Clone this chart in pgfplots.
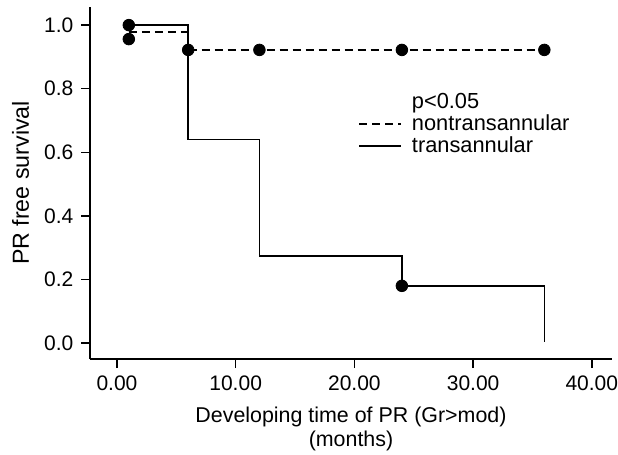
\documentclass[border=0pt]{standalone}
\usepackage{fontspec}
\setmainfont{Liberation Sans}
\usepackage{pgfplots}
\pgfplotsset{compat=1.18}
\begin{document}
\fontsize{10.9}{13}\selectfont
\begin{tikzpicture}
\begin{axis}[
  scale only axis,
  width=261pt, height=176pt,
  xmin=-2.27, xmax=41.7, ymin=-0.05, ymax=1.057,
  axis x line*=bottom, axis y line*=left,
  axis line style={line width=0.7pt},
  tick style={line width=0.7pt, black},
  tick align=outside, major tick length=4.5pt,
  tick label style={font=\fontsize{10.5}{12}\selectfont},
  xtick={0,10,20,30,40}, ytick={0,0.2,0.4,0.6,0.8,1.0},
  xticklabel style={/pgf/number format/.cd, fixed, fixed zerofill, precision=2, assume math mode=true},
  yticklabel style={/pgf/number format/.cd, fixed, fixed zerofill, precision=1, assume math mode=true},
  xlabel={Developing time of PR (Gr>mod)\\(months)},
  xlabel style={align=center, font=\fontsize{10.7}{12}\selectfont, yshift=-1pt},
  ylabel={PR free survival},
  ylabel style={font=\fontsize{11.6}{13}\selectfont},
  legend style={draw=none, fill=none, inner sep=0pt, row sep=-2.5pt, at={(axis cs:20.3,0.80)}, anchor=north west, cells={anchor=west}},
  legend image code/.code={\draw[#1] (0pt,0pt) -- (21pt,0pt); \path (24pt,0pt);},
]
\addlegendimage{empty legend}
\addlegendentry{p<0.05}
\addplot[const plot, black, line width=0.8pt, dash pattern=on 4pt off 2.5pt] coordinates {(1,0.979) (6,0.922) (36,0.922)};
\addlegendentry{nontransannular}
\addplot[const plot, black, line width=0.8pt] coordinates {(1,1.0) (6,0.64) (12,0.274) (24,0.18) (36,0.005)};
\addlegendentry{transannular}
\addplot[only marks, mark=*, mark size=2.9pt, black, forget plot] coordinates {(1,1.0) (24,0.18)};
\addplot[only marks, mark=*, mark size=2.9pt, black, forget plot] coordinates {(1,0.956) (6,0.922) (12,0.922) (24,0.922) (36,0.922)};
\end{axis}
\pgfresetboundingbox
\path[use as bounding box] ([shift={(-45pt,-47.5pt)}]current axis.south west) rectangle ([shift={(3pt,3.5pt)}]current axis.north east);
\end{tikzpicture}
\end{document}
